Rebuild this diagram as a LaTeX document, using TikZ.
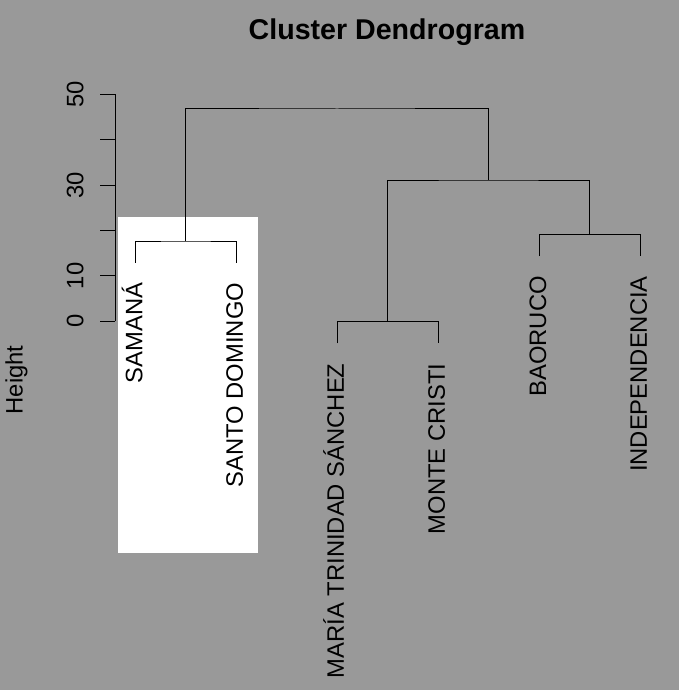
\documentclass[tikz,border=0pt]{standalone}
\usepackage{fontspec}
\setmainfont{Liberation Sans}
\definecolor{bggray}{RGB}{153,153,153}
\begin{document}
\begin{tikzpicture}[x=1pt,y=-1pt,
  tree/.style={line width=1pt},
  axisline/.style={line width=1pt},
  leaflabel/.style={rotate=90, anchor=base east, inner sep=0pt, font=\fontsize{23.8}{28}\selectfont},
  ticklabel/.style={rotate=90, anchor=base, inner sep=0pt, font=\fontsize{23.8}{28}\selectfont},
  titletext/.style={anchor=base, inner sep=0pt, font=\fontsize{28.6}{34}\selectfont\bfseries}]
\useasboundingbox (0,0) rectangle (679,690);
\fill[bggray] (0,0) rectangle (679,690);
% white box
\fill[white] (118,216.7) rectangle (257.7,553.3);
% title
\node[titletext] (title) at (387,39.3) {Cluster Dendrogram};
% axis
\coordinate (a0) at (115,321.3);
\coordinate (a50) at (115,94.3);
\draw[axisline] (a0) -- (a50);
\foreach \v/\yy in {0/321.3,10/275.9,20/230.5,30/185.1,40/139.7,50/94.3}{
  \draw[axisline] (100,\yy) -- (115,\yy);
}
\node[ticklabel] (t0) at (83.3,321.3) {0};
\node[ticklabel] (t10) at (83.3,275.9) {10};
\node[ticklabel] (t30) at (83.3,185.1) {30};
\node[ticklabel] (t50) at (83.3,94.3) {50};
\node[ticklabel] (ylab) at (22.5,380) {Height};
% leaves
\coordinate (lSAM) at (135.5,262.7);
\coordinate (lSD) at (236,262.7);
\coordinate (lMAR) at (337,343.3);
\coordinate (lMON) at (438,343.3);
\coordinate (lBAO) at (539.3,256);
\coordinate (lIND) at (640,256);
% merges
\coordinate (n1) at (185.7,241);
\coordinate (n2) at (387.6,321.7);
\coordinate (n3) at (589.7,234.7);
\coordinate (n4) at (488.6,180);
\coordinate (n5) at (337,109);
\draw[tree] (lSAM) |- (n1) -| (lSD);
\draw[tree] (lMAR) |- (n2) -| (lMON);
\draw[tree] (lBAO) |- (n3) -| (lIND);
\draw[tree] (n2) |- (n4) -| (n3);
\draw[tree] (n1) |- (n5) -| (n4);
% labels
\node[leaflabel] (xSAM) at (142.3,282.7) {SAMANÁ};
\node[leaflabel] (xSD) at (242.8,282.7) {SANTO DOMINGO};
\node[leaflabel] (xMAR) at (343.8,363.3) {MARÍA TRINIDAD SÁNCHEZ};
\node[leaflabel] (xMON) at (444.8,363.3) {MONTE CRISTI};
\node[leaflabel] (xBAO) at (546.1,276) {BAORUCO};
\node[leaflabel] (xIND) at (646.8,276) {INDEPENDENCIA};
\end{tikzpicture}
\end{document}
